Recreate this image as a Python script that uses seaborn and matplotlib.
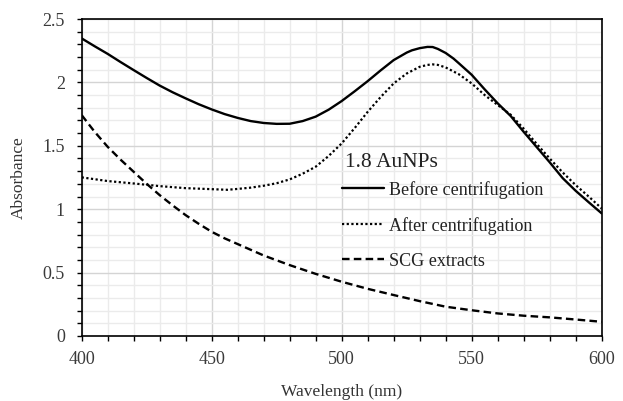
import matplotlib
matplotlib.use("Agg")
import matplotlib.pyplot as plt
from matplotlib.ticker import MultipleLocator, FuncFormatter
import seaborn as sns
import numpy as np
import pandas as pd

# ---- data ----
before_x = [400, 405, 410, 415, 420, 425, 430, 435, 440, 445, 450, 455, 460, 465, 470, 475,
            480, 485, 490, 495, 500, 505, 510, 515, 520, 525, 527, 530, 533, 535, 537, 540,
            543, 545, 550, 555, 560, 565, 570, 575, 580, 585, 590, 595, 600]
before_y = [2.347, 2.285, 2.225, 2.160, 2.097, 2.035, 1.975, 1.922, 1.874, 1.828, 1.787, 1.750,
            1.720, 1.695, 1.680, 1.673, 1.674, 1.695, 1.730, 1.785, 1.853, 1.930, 2.010, 2.095,
            2.176, 2.235, 2.253, 2.270, 2.280, 2.279, 2.264, 2.232, 2.188, 2.152, 2.060, 1.945,
            1.835, 1.735, 1.610, 1.490, 1.370, 1.245, 1.145, 1.055, 0.967]

after_x = [400, 410, 420, 430, 440, 450, 456, 460, 465, 470, 475, 480, 485, 490, 495, 500,
           505, 510, 515, 520, 525, 530, 533, 535, 537, 540, 545, 550, 555, 560, 565, 570,
           575, 580, 585, 590, 595, 600]
after_y = [1.251, 1.222, 1.203, 1.182, 1.166, 1.158, 1.153, 1.160, 1.170, 1.185, 1.205, 1.235,
           1.280, 1.335, 1.420, 1.519, 1.640, 1.768, 1.885, 1.992, 2.070, 2.123, 2.138, 2.142,
           2.138, 2.118, 2.065, 1.992, 1.900, 1.822, 1.745, 1.635, 1.515, 1.400, 1.290, 1.190,
           1.100, 1.006]

scg_x = [400, 405, 410, 415, 420, 425, 430, 435, 440, 445, 450, 455, 460, 465, 470, 480,
         490, 500, 510, 520, 530, 540, 550, 560, 570, 580, 590, 600]
scg_y = [1.742, 1.610, 1.492, 1.390, 1.295, 1.200, 1.111, 1.030, 0.953, 0.885, 0.822, 0.770,
         0.725, 0.680, 0.635, 0.559, 0.490, 0.428, 0.372, 0.323, 0.275, 0.231, 0.203, 0.178,
         0.160, 0.147, 0.130, 0.112]

series_labels = ["Before centrifugation", "After centrifugation", "SCG extracts"]
legend_title = "1.8 AuNPs"
x_label = "Wavelength (nm)"
y_label = "Absorbance"

# ---- style ----
sns.set_style("white")
plt.rcParams["font.family"] = ["Liberation Serif", "DejaVu Serif"]

fig = plt.figure(figsize=(6.23, 4.01), dpi=100)
ax = fig.add_axes([0.1311, 0.1621, 0.8347, 0.7905])

sns.lineplot(x=before_x, y=before_y, ax=ax, color="black", linewidth=1.7,
             linestyle="-", label=series_labels[0])
sns.lineplot(x=after_x, y=after_y, ax=ax, color="black", linewidth=1.6,
             linestyle=(0, (1, 1.1)), label=series_labels[1])
sns.lineplot(x=scg_x, y=scg_y, ax=ax, color="black", linewidth=1.7,
             linestyle=(0, (3.2, 1.8)), label=series_labels[2])

ax.set_xlim(400, 600)
ax.set_ylim(0, 2.5)
ax.xaxis.set_major_locator(MultipleLocator(50))
ax.xaxis.set_minor_locator(MultipleLocator(10))
ax.yaxis.set_major_locator(MultipleLocator(0.5))
ax.yaxis.set_minor_locator(MultipleLocator(0.1))
ax.yaxis.set_major_formatter(FuncFormatter(lambda v, p: f"{v:g}"))

ax.grid(which="major", color="#d4d4d4", linewidth=1.0)
ax.grid(which="minor", color="#ebebeb", linewidth=1.0)
ax.set_axisbelow(True)

for s in ax.spines.values():
    s.set_visible(True)
    s.set_color("black")
    s.set_linewidth(1.2)

ax.tick_params(which="both", direction="out", length=3.6, width=1.0, color="black",
               bottom=True, left=True, top=False, right=False)
ax.tick_params(axis="x", which="major", labelsize=13, labelcolor="#3a3a3a", pad=7.5)
ax.tick_params(axis="y", which="major", labelsize=13, labelcolor="#3a3a3a", pad=8.4)

ax.set_xlabel(x_label, fontsize=12.5, color="#333333", labelpad=11)
ax.set_ylabel(y_label, fontsize=12.5, color="#333333", labelpad=11)

leg = ax.legend(loc="upper left", bbox_to_anchor=(0.5006, 0.4893),
                frameon=False, fontsize=13,
                handlelength=2.3, handletextpad=0.3, labelspacing=1.0,
                borderpad=0, borderaxespad=0)
for t in leg.get_texts():
    t.set_color("#222222")
ax.text(0.5063, 0.546, legend_title, transform=ax.transAxes, fontsize=15.5,
        color="#222222", ha="left", va="center")

fig.savefig("out.png", dpi=100)
